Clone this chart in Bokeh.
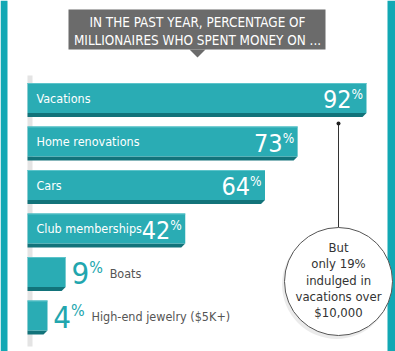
from bokeh.plotting import figure
from bokeh.models import Range1d, ColumnDataSource
from bokeh.core.properties import value
from bokeh.embed import file_html
from bokeh.resources import INLINE

# ---- data ----
categories = ["Vacations", "Home renovations", "Cars", "Club memberships", "Boats", "High-end jewelry ($5K+)"]
percents = [92, 73, 64, 42, 9, 4]
title_lines = ["IN THE PAST YEAR, PERCENTAGE OF", "MILLIONAIRES WHO SPENT MONEY ON ..."]
callout_lines = ["But", "only 19%", "indulged in", "vacations over", "$10,000"]

FONT = value("'DejaVu Sans Condensed', Roboto")
TEAL = "#2aacb4"
DARK = "#12737a"
BORDER = "#12a8b4"

W, H = 395, 351
X0 = 32.5      # pixel where 0% sits
S = 3.625      # pixels per percent


def X(px):
    return (px - X0) / S


p = figure(width=W, height=H, output_backend="svg", toolbar_location=None,
           x_range=Range1d(X(0), X(W)), y_range=Range1d(H, 0),
           min_border=0, outline_line_color=None, background_fill_color="white",
           border_fill_color="white")
p.axis.visible = False
p.grid.visible = False

# frame borders
p.quad(left=[X(0), X(387)], right=[X(7), X(W)], top=[0, 0], bottom=[H, H],
       fill_color=BORDER, line_color=None)

# title box with pointer
p.quad(left=[X(68)], right=[X(325)], top=[9], bottom=[49], fill_color="#6b6b6b", line_color=None)
p.patch(x=[X(189), X(205), X(197)], y=[49, 49, 57], fill_color="#6b6b6b", line_color=None)
p.text(x=[X(197)] * 2, y=[21.5, 39.5], text=title_lines, text_font=FONT, text_font_size="13.4px",
       text_color="white", text_align="center", text_baseline="middle")

# back wall
p.quad(left=[X(27)], right=[X(32)], top=[75], bottom=[346], fill_color="#e4e4e4", line_color=None)

n = len(categories)
centers = [97.5 + i * 43.5 for i in range(n)]
face_top = [c - 15 for c in centers]
face_bot = [c + 15 for c in centers]
lefts = [X(27)] * n

# bottom dark strips
xs, ys = [], []
for v, b in zip(percents, face_bot):
    xs.append([X(27), v, v - 4 / S, X(27)])
    ys.append([b, b, b + 4, b + 4])
p.patches(xs=xs, ys=ys, fill_color=DARK, line_color=None)

# faces
p.quad(left=lefts, right=percents, top=face_top, bottom=face_bot, fill_color=TEAL, line_color=None)
# top highlight
p.segment(x0=lefts, x1=percents, y0=[t + 0.5 for t in face_top], y1=[t + 0.5 for t in face_top],
          line_color="#5cc4ca", line_width=1)

inside = [v >= 40 for v in percents]

# inside labels
in_src = ColumnDataSource(dict(
    lx=[X(36)] * sum(inside),
    c=[c for c, f in zip(centers, inside) if f],
    cat=[k for k, f in zip(categories, inside) if f],
    nx=[v - 15 / S for v, f in zip(percents, inside) if f],
    ny=[c + 1 for c, f in zip(centers, inside) if f],
    py=[c - 4 for c, f in zip(centers, inside) if f],
    num=[str(v) for v, f in zip(percents, inside) if f],
))
p.text(x="lx", y="c", text="cat", source=in_src, text_font=FONT, text_font_size="12.5px",
       text_color="white", text_align="left", text_baseline="middle")
p.text(x="nx", y="ny", text="num", source=in_src, text_font=FONT, text_font_size="25px",
       text_color="white", text_align="right", text_baseline="middle")
p.text(x="nx", y="py", text=value("%"), source=in_src, text_font=FONT, text_font_size="13.5px",
       text_color="white", text_align="left", text_baseline="middle")

# outside labels
out_src = ColumnDataSource(dict(
    nx=[v + 23.5 / S for v, f in zip(percents, inside) if not f],
    ny=[c + 1 for c, f in zip(centers, inside) if not f],
    py=[c - 5 for c, f in zip(centers, inside) if not f],
    num=[str(v) for v, f in zip(percents, inside) if not f],
    lx=[v + 44 / S for v, f in zip(percents, inside) if not f],
    c=[c + 1 for c, f in zip(centers, inside) if not f],
    cat=[k for k, f in zip(categories, inside) if not f],
))
p.text(x="nx", y="ny", text="num", source=out_src, text_font=FONT, text_font_size="31px",
       text_color="#22a6ae", text_align="right", text_baseline="middle")
p.text(x="nx", y="py", text=value("%"), source=out_src, text_font=FONT, text_font_size="16px",
       text_color="#22a6ae", text_align="left", text_baseline="middle")
p.text(x="lx", y="c", text="cat", source=out_src, text_font=FONT, text_font_size="12.5px",
       text_color="#555555", text_align="left", text_baseline="middle")

# callout
p.segment(x0=[X(338)], x1=[X(338)], y0=[123], y1=[227], line_color="#333333", line_width=1)
p.scatter(x=[X(338)], y=[123], size=4, marker="circle", fill_color="#222222", line_color=None)
p.scatter(x=[X(336)], y=[284], size=109, marker="circle", fill_color="#000000", fill_alpha=0.08,
          line_color=None)
p.scatter(x=[X(338)], y=[281], size=108, marker="circle", fill_color="white", line_color="#555555",
          line_width=1)
p.text(x=[X(338)] * len(callout_lines), y=[247 + i * 16.3 for i in range(len(callout_lines))],
       text=callout_lines, text_font=FONT, text_font_size="13px", text_color="#333333",
       text_align="center", text_baseline="middle")

open("out.html", "w").write(file_html(p, INLINE))
